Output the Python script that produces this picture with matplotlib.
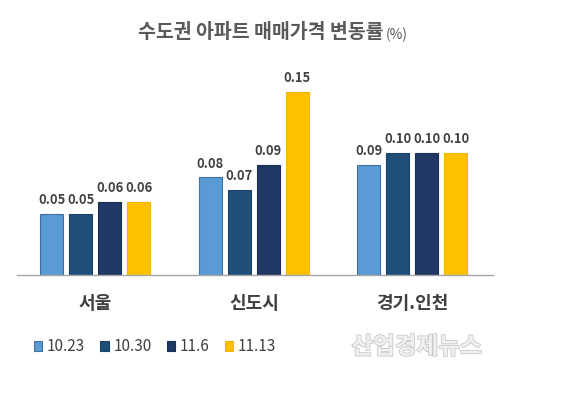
import matplotlib.pyplot as plt
import matplotlib.patheffects as pe
import numpy as np

plt.rcParams['font.family'] = ['Noto Sans CJK KR', 'DejaVu Sans']

# data
regions = ['서울', '신도시', '경기.인천']
weeks = ['10.23', '10.30', '11.6', '11.13']
w1023 = [0.05, 0.08, 0.09]
w1030 = [0.05, 0.07, 0.10]
w1106 = [0.06, 0.09, 0.10]
w1113 = [0.06, 0.15, 0.10]
series = [w1023, w1030, w1106, w1113]
colors = ['#5B9BD5', '#1F4E79', '#203864', '#FFC000']
edges = ['#41719C', '#1A4266', '#1A2F55', '#F2B600']

fig = plt.figure(figsize=(5.67, 3.96), dpi=100)
ax = fig.add_axes([0.030, 0.3056, 0.8395, 0.4925])

x = np.arange(len(regions))
width = 0.145
step = 0.183
for i, vals in enumerate(series):
    pos = x + (i - 1.5) * step
    bars = ax.bar(pos, vals, width, color=colors[i], edgecolor=edges[i],
                  linewidth=0.8, label=weeks[i])
    for b, v in zip(bars, vals):
        ax.annotate(f'{v:.2f}', (b.get_x() + b.get_width() / 2, v),
                    xytext=(0, 5), textcoords='offset points',
                    ha='center', va='bottom', fontsize=9.3,
                    fontweight='bold', color='#404040')

ax.set_xlim(-0.495, 2.51)
ax.set_ylim(0, 0.16)
for s in ['top', 'right', 'left']:
    ax.spines[s].set_visible(False)
ax.spines['bottom'].set_color('#A6A6A6')
ax.spines['bottom'].set_linewidth(1)
ax.set_yticks([])
ax.set_xticks(x)
ax.set_xticklabels(regions, fontsize=13, fontweight='bold', color='#404040')
ax.tick_params(axis='x', length=0, pad=14)

# title with smaller unit right after it
t = fig.text(138 / 567, 0.918, '수도권 아파트 매매가격 변동률', ha='left', va='center',
             fontsize=14, fontweight='bold', color='#595959')
fig.canvas.draw()
bb = t.get_window_extent().transformed(fig.transFigure.inverted())
fig.text(bb.x1 + 0.004, 0.912, '(%)', ha='left', va='center', fontsize=10,
         color='#595959')

fig.legend(loc='center left', bbox_to_anchor=(0.060, 0.124), ncol=4,
           frameon=False, fontsize=11, handlelength=0.55, handleheight=0.55,
           handletextpad=0.3, columnspacing=1.0, labelcolor='#404040',
           borderpad=0, borderaxespad=0)

fig.text(0.735, 0.124, '산업경제뉴스', ha='center', va='center', fontsize=17,
         fontweight='bold', color='#F0F0F0',
         path_effects=[pe.withStroke(linewidth=1.2, foreground='#C8C8C8')])

fig.savefig('out.png', dpi=100)
